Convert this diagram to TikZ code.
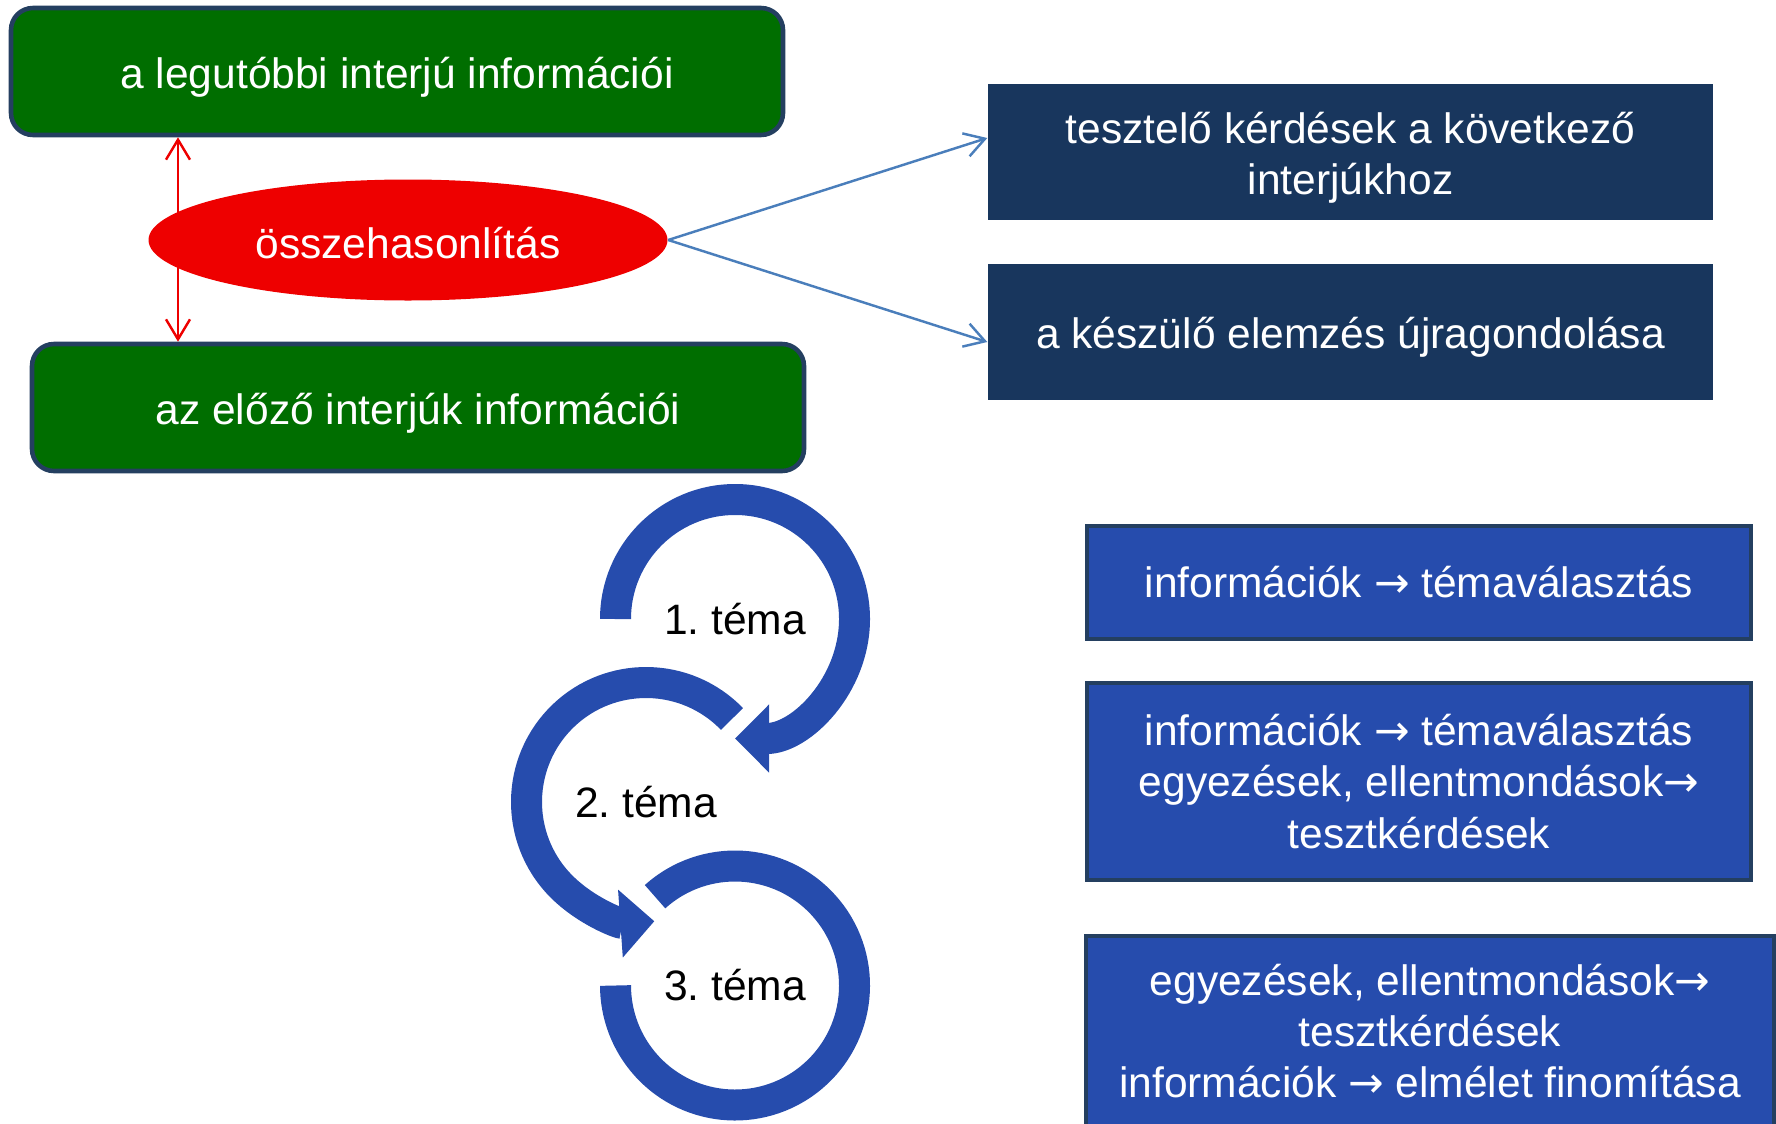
\documentclass[tikz,border=0pt]{standalone}
\usepackage{fontspec}
\setmainfont{Liberation Sans}
\newfontfamily\arrowfont{DejaVu Sans}
\newcommand{\toarrow}{{\arrowfont →}}
\usetikzlibrary{shapes.geometric,arrows.meta}
\definecolor{boxgreen}{RGB}{0,110,0}
\definecolor{edgenavy}{RGB}{36,63,96}
\definecolor{ovalred}{RGB}{238,0,0}
\definecolor{darknavy}{RGB}{24,54,93}
\definecolor{ringblue}{RGB}{38,76,173}
\definecolor{linkblue}{RGB}{74,126,187}
\begin{document}
\begin{tikzpicture}[
			every node/.style={font=\fontsize{12.1}{14.6}\selectfont, align=center, inner sep=0pt},
			greenbox/.style={rectangle, rounded corners=0.22cm, draw=edgenavy, line width=1.3pt, fill=boxgreen, text=white, minimum width=7.72cm, minimum height=1.27cm, execute at begin node=\rule{0pt}{1em}},
			oval/.style={ellipse, fill=ovalred, text=white, minimum width=5.19cm, minimum height=1.21cm, execute at begin node=\rule{0pt}{0.9em}},
			navybox/.style={rectangle, fill=darknavy, text=white, minimum width=7.25cm, minimum height=1.36cm, execute at begin node=\rule{0pt}{1em}},
			topicbox/.style={rectangle, draw=edgenavy, line width=1.3pt, fill=ringblue, text=white, minimum width=6.64cm},
			ring/.style={draw=ringblue, line width=3.1mm},
			ringtip/.style={ring, -{Triangle[width=6.6mm, length=3.4mm]}},
			link/.style={draw=linkblue, line width=0.7pt, -{Straight Barb[length=2mm, width=2.4mm]}},
			compare/.style={draw=ovalred, line width=0.7pt, {Straight Barb[length=2mm, width=2.4mm]}-{Straight Barb[length=2mm, width=2.4mm]}}
		]
			\useasboundingbox (0,0) rectangle (17.76,-11.23);

			\node[greenbox] (latest) at (3.97,-0.715) {a legutóbbi interjú információi};
			\node[greenbox] (earlier) at (4.18,-4.075) {az előző interjúk információi};
			\coordinate (axis) at (1.78,0);
			\draw[compare] (latest.south -| axis) -- (earlier.north -| axis);
			\node[oval] (comp) at (4.08,-2.40) {összehasonlítás};

			\node[navybox] (tests) at (13.505,-1.52) {\rule{0pt}{1em}tesztelő kérdések a következő\\interjúkhoz};
			\node[navybox] (rethink) at (13.505,-3.32) {a készülő elemzés újragondolása};
			\draw[link] (comp.east) -- ([yshift=1.4mm]tests.west);
			\draw[link] (comp.east) -- ([yshift=-1mm]rethink.west);

			\node (topic1) at (7.35,-6.19) {1.\ téma};
			\node (topic2) at (6.46,-8.02) {2.\ téma};
			\node (topic3) at (7.35,-9.855) {3.\ téma};
			\draw[ringtip] (topic1.center) ++(180:1.195) arc[start angle=180, end angle=-90, radius=1.195];
			\draw[ringtip] (topic2.center) ++(44:1.195) arc[start angle=44, end angle=274, radius=1.195];
			\draw[ring] (topic3.center) ++(132:1.195) arc[start angle=132, end angle=-180, radius=1.195];

			\node[topicbox, minimum height=1.13cm] (step1) at (14.19,-5.825) {információk \toarrow{} témaválasztás};
			\node[topicbox, minimum height=1.97cm] (step2) at (14.19,-7.815) {információk \toarrow{} témaválasztás\\egyezések, ellentmondások\toarrow\\tesztkérdések};
			\node[topicbox, minimum width=6.88cm, minimum height=1.90cm] (step3) at (14.30,-10.31) {egyezések, ellentmondások\toarrow\\tesztkérdések\\információk \toarrow{} elmélet finomítása};
		\end{tikzpicture}
\end{document}
